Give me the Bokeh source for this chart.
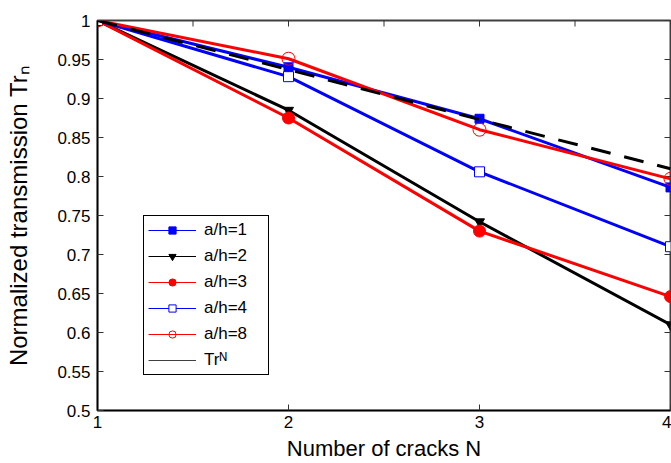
import math
from bokeh.plotting import figure
from bokeh.models import FixedTicker, Legend, LegendItem, Range1d
from bokeh.embed import file_html
from bokeh.resources import INLINE

# ---- data ----
N = [1, 2, 3, 4]
ah1 = [1.0, 0.940, 0.874, 0.786]
ah2 = [1.0, 0.885, 0.742, 0.610]
ah3 = [1.0, 0.875, 0.730, 0.646]
ah4 = [1.0, 0.928, 0.806, 0.710]
ah8 = [1.0, 0.951, 0.860, 0.797]
trN = [1.0, 0.937, 0.873, 0.810]

series_labels = ["a/h=1", "a/h=2", "a/h=3", "a/h=4", "a/h=8", "Tr\u1d3a"]

x_ticks = [1, 2, 3, 4]
x_tick_labels = ["1", "2", "3", "4"]
top_ticks = [1.5, 2, 2.5, 3, 3.5, 4]
y_ticks = [0.5, 0.55, 0.6, 0.65, 0.7, 0.75, 0.8, 0.85, 0.9, 0.95, 1.0]
y_tick_labels = ["0.5", "0.55", "0.6", "0.65", "0.7", "0.75", "0.8", "0.85", "0.9", "0.95", "1"]

FONT = "Liberation Sans"
X0, X1 = x_ticks[0], x_ticks[-1]
Y0, Y1 = y_ticks[0], y_ticks[-1]

p = figure(width=671, height=463, x_range=Range1d(X0, X1), y_range=Range1d(Y0, Y1),
           output_backend="svg", toolbar_location=None,
           min_border_left=97, min_border_top=20, min_border_bottom=51, min_border_right=1)
p.outline_line_color = "#404040"
p.outline_line_width = 2
p.xgrid.visible = False
p.ygrid.visible = False
p.background_fill_color = "white"
p.border_fill_color = "white"

def style_axis(ax):
    ax.major_tick_in = 6
    ax.major_tick_out = 0
    ax.minor_tick_in = 0
    ax.minor_tick_out = 0
    ax.axis_line_color = "black"
    ax.axis_line_width = 1.5
    ax.major_tick_line_color = "#333333"
    ax.major_tick_line_width = 1
    ax.major_label_text_font = FONT
    ax.major_label_text_font_size = "17px"
    ax.major_label_text_color = "black"
    ax.axis_label_text_font = FONT
    ax.axis_label_text_font_style = "normal"
    ax.axis_label_text_color = "black"

xa = p.xaxis[0]
style_axis(xa)
xa.ticker = FixedTicker(ticks=x_ticks)
xa.major_label_overrides = {t: l for t, l in zip(x_ticks, x_tick_labels)}
xa.major_label_standoff = 5
xa.axis_label = "Number of cracks N"
xa.axis_label_text_font_size = "22px"
xa.axis_label_standoff = 5

ya = p.yaxis[0]
style_axis(ya)
ya.ticker = FixedTicker(ticks=y_ticks)
ya.major_label_overrides = {t: l for t, l in zip(y_ticks, y_tick_labels)}
ya.major_label_standoff = 7
ya.axis_label = "Normalized transmission Tr\u2099"
ya.axis_label_text_font_size = "24px"
ya.axis_label_standoff = 22

# inward ticks on the top and right edges of the box (clipped to the frame)
p.scatter(top_ticks, [Y1] * len(top_ticks), marker="dash", angle=math.pi / 2, size=12,
          line_color="#333333", line_width=1)
p.scatter([X1] * len(y_ticks), y_ticks, marker="dash", size=12,
          line_color="#333333", line_width=1)

# ---- series ----
specs = [
    (ah1, "blue", "square", 9, "blue", "blue"),
    (ah2, "black", "inverted_triangle", 10, "black", "black"),
    (ah3, "red", "circle", 12, "red", "red"),
    (ah4, "blue", "square", 10, "white", "blue"),
    (ah8, "red", "circle", 13, None, "red"),
]
for vals, col, mk, sz, fc, lc in specs:
    p.line(N, vals, line_color=col, line_width=3)
for vals, col, mk, sz, fc, lc in specs:
    p.scatter(N, vals, marker=mk, size=sz, fill_color=fc, line_color=lc, line_width=1)
p.line(N, trN, line_color="black", line_width=3, line_dash="20 14")

# ---- legend (thin proxy glyphs) ----
nan = [math.nan]
leg_specs = [
    ("blue", "square", 7, "blue", "blue"),
    ("black", "inverted_triangle", 11, "black", "black"),
    ("red", "circle", 10, "red", "red"),
    ("blue", "square", 8, "white", "blue"),
    ("red", "circle", 13, None, "red"),
]
items = []
for lab, (col, mk, sz, fc, lc) in zip(series_labels[:5], leg_specs):
    lr = p.line(nan, nan, line_color=col, line_width=1)
    sr = p.scatter(nan, nan, marker=mk, size=sz, fill_color=fc, line_color=lc, line_width=1)
    items.append(LegendItem(label=lab, renderers=[lr, sr]))
tr_r = p.line(nan, nan, line_color="#404040", line_width=1)
items.append(LegendItem(label=series_labels[5], renderers=[tr_r]))

legend = Legend(items=items, location=(46, 35), glyph_width=48, glyph_height=18,
                spacing=6, padding=4, label_standoff=8, label_width=60,
                border_line_color="black", border_line_width=1, border_line_alpha=1,
                background_fill_color="white", background_fill_alpha=1,
                label_text_font=FONT, label_text_font_size="17px", label_text_color="black",
                label_height=18)
p.add_layout(legend)

open("out.html", "w").write(file_html(p, INLINE))
